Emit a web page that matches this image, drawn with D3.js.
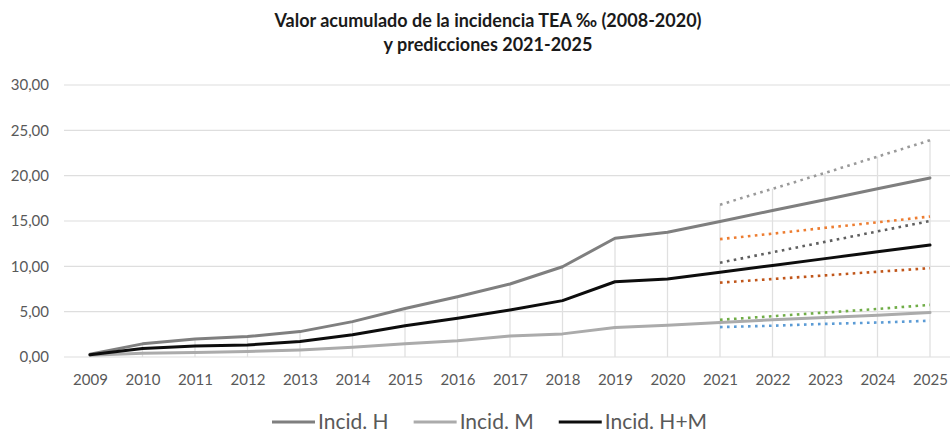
<!DOCTYPE html>
<html>
<head>
<meta charset="utf-8">
<script src="https://cdn.jsdelivr.net/npm/d3@7"></script>
<style>
  html, body { margin: 0; padding: 0; background: #fff; }
  svg { display: block; font-family: Lato, "Open Sans", sans-serif; }
</style>
</head>
<body>
<svg id="chart" width="950" height="432"></svg>
<script>
// Years on the category axis
const years = ["2009","2010","2011","2012","2013","2014","2015","2016","2017","2018","2019","2020","2021","2022","2023","2024","2025"];
const yTicks = [0, 5, 10, 15, 20, 25, 30];

// Accumulated incidence (‰): observed 2009-2020 and predicted 2021-2025
const incidH  = [0.30, 1.45, 1.98, 2.25, 2.80, 3.90, 5.35, 6.65, 8.05, 9.95, 13.10, 13.75, 14.95, 16.15, 17.35, 18.55, 19.75];
const incidM  = [0.20, 0.42, 0.50, 0.60, 0.78, 1.08, 1.45, 1.80, 2.32, 2.55, 3.25, 3.50, 3.80, 4.10, 4.35, 4.60, 4.90];
const incidHM = [0.25, 0.95, 1.22, 1.33, 1.70, 2.45, 3.45, 4.27, 5.18, 6.22, 8.30, 8.60, 9.35, 10.10, 10.85, 11.60, 12.35];

// Prediction bounds 2021-2025
const forecastYears = ["2021","2022","2023","2024","2025"];
const hUpper  = [16.80, 18.55, 20.30, 22.10, 23.90];
const hLower  = [13.00, 13.60, 14.25, 14.85, 15.50];
const hmUpper = [10.40, 11.55, 12.70, 13.85, 15.00];
const hmLower = [8.20, 8.60, 9.00, 9.40, 9.80];
const mUpper  = [4.10, 4.50, 4.90, 5.30, 5.75];
const mLower  = [3.30, 3.45, 3.65, 3.80, 4.00];

const legendLabels = ["Incid. H", "Incid. M", "Incid. H+M"];

const svg = d3.select("#chart");
const x = d3.scalePoint().domain(years).range([90, 930]);
const y = d3.scaleLinear().domain([0, 30]).range([357, 85]);
const fmt = v => d3.format(".2f")(v).replace(".", ",");

// Title
const title = svg.append("text")
  .attr("x", 488).attr("text-anchor", "middle")
  .attr("font-weight", 700).attr("font-size", 18).attr("fill", "#1a1a1a");
title.append("tspan").attr("x", 488).attr("y", 27).text("Valor acumulado de la incidencia TEA ‰ (2008-2020)");
title.append("tspan").attr("x", 488).attr("y", 51).text("y predicciones 2021-2025");

// Horizontal gridlines
svg.append("g").selectAll("line").data(yTicks).join("line")
  .attr("x1", 64).attr("x2", 950)
  .attr("y1", d => y(d)).attr("y2", d => y(d))
  .attr("stroke", "#dedede").attr("stroke-width", 1.2);

// Drop lines from the highest value of each year down to the axis
const solid = [incidH, incidM, incidHM];
const bounds = [hUpper, hLower, hmUpper, hmLower, mUpper, mLower];
const maxByYear = years.map((yr, i) => {
  let m = d3.max(solid, s => s[i]);
  const fi = forecastYears.indexOf(yr);
  if (fi >= 0) m = Math.max(m, d3.max(bounds, s => s[fi]));
  return { yr, m };
});
svg.append("g").selectAll("line").data(maxByYear).join("line")
  .attr("x1", d => x(d.yr)).attr("x2", d => x(d.yr))
  .attr("y1", d => y(d.m)).attr("y2", y(0))
  .attr("stroke", "#e0e0e0").attr("stroke-width", 1.3);

// Y axis labels
const yAxis = svg.append("g").attr("transform", "translate(49,0)")
  .call(d3.axisLeft(y).tickValues(yTicks).tickFormat(fmt).tickSize(0).tickPadding(0));
yAxis.select(".domain").remove();
yAxis.selectAll("text").attr("font-family", "Lato, sans-serif").attr("font-size", 15).attr("fill", "#595959");

// X axis labels
const xAxis = svg.append("g").attr("transform", `translate(0,${y(0)})`)
  .call(d3.axisBottom(x).tickSize(0).tickPadding(17));
xAxis.select(".domain").remove();
xAxis.selectAll("text").attr("font-family", "Lato, sans-serif").attr("font-size", 15).attr("fill", "#595959");

// Dotted prediction bounds
const line = d3.line().x(d => x(d[0])).y(d => y(d[1]));
const dotted = [
  { v: hUpper,  c: "#9a9a9a" },
  { v: hLower,  c: "#ed7d31" },
  { v: hmUpper, c: "#5f5f5f" },
  { v: hmLower, c: "#c0561a" },
  { v: mUpper,  c: "#70ad47" },
  { v: mLower,  c: "#5b9bd5" }
];
svg.append("g").selectAll("path").data(dotted).join("path")
  .attr("d", d => line(forecastYears.map((yr, i) => [yr, d.v[i]])))
  .attr("fill", "none").attr("stroke", d => d.c)
  .attr("stroke-width", 2.6).attr("stroke-dasharray", "2.6 4.4");

// Main series
const series = [
  { v: incidM,  c: "#ababab" },
  { v: incidH,  c: "#7f7f7f" },
  { v: incidHM, c: "#0d0d0d" }
];
svg.append("g").selectAll("path").data(series).join("path")
  .attr("d", d => line(years.map((yr, i) => [yr, d.v[i]])))
  .attr("fill", "none").attr("stroke", d => d.c)
  .attr("stroke-width", 3).attr("stroke-linejoin", "round").attr("stroke-linecap", "round");

// Legend
const legendColors = ["#7f7f7f", "#ababab", "#0d0d0d"];
let lx = 272;
const ly = 422;
legendLabels.forEach((lab, i) => {
  svg.append("line").attr("x1", lx).attr("x2", lx + 43).attr("y1", ly).attr("y2", ly)
    .attr("stroke", legendColors[i]).attr("stroke-width", 3);
  const t = svg.append("text").attr("x", lx + 46).attr("y", ly + 7)
    .attr("font-size", 21).attr("fill", "#595959").text(lab);
  lx += 46 + t.node().getComputedTextLength() + 25;
});
</script>
</body>
</html>
